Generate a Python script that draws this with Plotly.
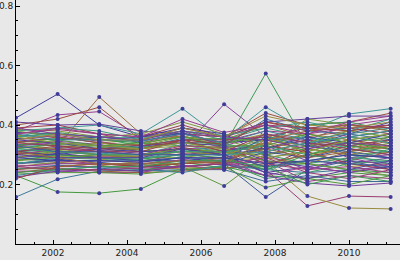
import colorsys
import plotly.graph_objects as go

# x positions of the samples (years)
years = [2001, 2002.125, 2003.25, 2004.375, 2005.5, 2006.625, 2007.75, 2008.875, 2010, 2011.125]
x_ticks = [2002, 2004, 2006, 2008, 2010]
y_ticks = [0.2, 0.4, 0.6, 0.8]

# outlier series
s01 = [0.424, 0.504, 0.40, 0.36, 0.37, 0.34, 0.35, 0.33, 0.36, 0.38]
s02 = [0.27, 0.28, 0.27, 0.26, 0.27, 0.28, 0.25, 0.128, 0.161, 0.158]
s03 = [0.31, 0.32, 0.30, 0.29, 0.30, 0.31, 0.28, 0.161, 0.121, 0.118]
s04 = [0.31, 0.32, 0.31, 0.30, 0.31, 0.33, 0.573, 0.33, 0.34, 0.32]
s05 = [0.29, 0.30, 0.29, 0.28, 0.29, 0.27, 0.158, 0.25, 0.28, 0.27]
s06 = [0.38, 0.434, 0.445, 0.36, 0.38, 0.33, 0.37, 0.35, 0.40, 0.42]
s07 = [0.37, 0.33, 0.494, 0.37, 0.36, 0.35, 0.40, 0.36, 0.38, 0.40]
s08 = [0.23, 0.175, 0.171, 0.185, 0.25, 0.26, 0.23, 0.22, 0.24, 0.23]
s09 = [0.158, 0.218, 0.245, 0.25, 0.26, 0.27, 0.25, 0.24, 0.25, 0.26]
s10 = [0.33, 0.34, 0.33, 0.31, 0.32, 0.47, 0.36, 0.34, 0.33, 0.35]
s11 = [0.40, 0.42, 0.46, 0.35, 0.39, 0.36, 0.44, 0.40, 0.41, 0.44]
s12 = [0.30, 0.31, 0.30, 0.29, 0.26, 0.195, 0.30, 0.32, 0.30, 0.31]
s13 = [0.36, 0.39, 0.40, 0.37, 0.455, 0.35, 0.46, 0.38, 0.437, 0.455]
s14 = [0.41, 0.40, 0.403, 0.38, 0.37, 0.36, 0.41, 0.42, 0.43, 0.43]

# body series
b01 = [0.39, 0.40, 0.37, 0.36, 0.40, 0.36, 0.41, 0.38, 0.39, 0.37]
b02 = [0.385, 0.38, 0.36, 0.37, 0.41, 0.37, 0.33, 0.42, 0.40, 0.39]
b03 = [0.38, 0.39, 0.38, 0.35, 0.38, 0.35, 0.39, 0.36, 0.33, 0.35]
b04 = [0.375, 0.37, 0.35, 0.36, 0.39, 0.37, 0.30, 0.33, 0.37, 0.41]
b05 = [0.37, 0.385, 0.37, 0.34, 0.37, 0.36, 0.40, 0.39, 0.36, 0.34]
b06 = [0.365, 0.36, 0.34, 0.35, 0.36, 0.34, 0.37, 0.30, 0.32, 0.36]
b07 = [0.36, 0.375, 0.355, 0.33, 0.35, 0.355, 0.35, 0.40, 0.41, 0.38]
b08 = [0.355, 0.35, 0.36, 0.345, 0.375, 0.33, 0.32, 0.35, 0.30, 0.29]
b09 = [0.35, 0.365, 0.345, 0.32, 0.34, 0.345, 0.38, 0.37, 0.39, 0.40]
b10 = [0.345, 0.34, 0.33, 0.335, 0.365, 0.32, 0.29, 0.27, 0.31, 0.33]
b11 = [0.34, 0.355, 0.35, 0.34, 0.33, 0.34, 0.36, 0.31, 0.35, 0.37]
b12 = [0.335, 0.33, 0.32, 0.325, 0.355, 0.33, 0.42, 0.38, 0.37, 0.35]
b13 = [0.33, 0.345, 0.335, 0.31, 0.32, 0.325, 0.31, 0.34, 0.29, 0.30]
b14 = [0.325, 0.32, 0.31, 0.32, 0.345, 0.31, 0.34, 0.29, 0.33, 0.32]
b15 = [0.32, 0.335, 0.325, 0.315, 0.31, 0.32, 0.27, 0.30, 0.34, 0.36]
b16 = [0.315, 0.31, 0.305, 0.30, 0.335, 0.305, 0.35, 0.36, 0.32, 0.31]
b17 = [0.31, 0.325, 0.315, 0.305, 0.30, 0.315, 0.33, 0.28, 0.27, 0.29]
b18 = [0.305, 0.30, 0.295, 0.295, 0.325, 0.30, 0.26, 0.32, 0.35, 0.33]
b19 = [0.30, 0.315, 0.30, 0.29, 0.29, 0.31, 0.30, 0.33, 0.31, 0.34]
b20 = [0.295, 0.29, 0.285, 0.285, 0.315, 0.295, 0.37, 0.34, 0.36, 0.38]
b21 = [0.29, 0.305, 0.29, 0.28, 0.28, 0.29, 0.24, 0.26, 0.28, 0.25]
b22 = [0.285, 0.28, 0.28, 0.275, 0.305, 0.285, 0.32, 0.35, 0.33, 0.35]
b23 = [0.28, 0.295, 0.285, 0.27, 0.27, 0.28, 0.29, 0.31, 0.26, 0.27]
b24 = [0.275, 0.27, 0.27, 0.265, 0.295, 0.275, 0.22, 0.24, 0.27, 0.28]
b25 = [0.27, 0.285, 0.275, 0.26, 0.26, 0.27, 0.31, 0.29, 0.32, 0.30]
b26 = [0.265, 0.26, 0.26, 0.255, 0.285, 0.265, 0.28, 0.21, 0.23, 0.22]
b27 = [0.26, 0.275, 0.265, 0.25, 0.255, 0.26, 0.34, 0.37, 0.35, 0.32]
b28 = [0.255, 0.25, 0.25, 0.245, 0.275, 0.255, 0.26, 0.27, 0.25, 0.24]
b29 = [0.25, 0.265, 0.255, 0.245, 0.25, 0.25, 0.21, 0.23, 0.21, 0.21]
b30 = [0.245, 0.245, 0.24, 0.24, 0.265, 0.25, 0.30, 0.25, 0.29, 0.26]
b31 = [0.24, 0.255, 0.245, 0.24, 0.245, 0.255, 0.27, 0.30, 0.28, 0.31]
b32 = [0.235, 0.24, 0.24, 0.235, 0.25, 0.26, 0.19, 0.22, 0.20, 0.23]
b33 = [0.23, 0.25, 0.26, 0.25, 0.24, 0.265, 0.25, 0.28, 0.30, 0.27]
b34 = [0.225, 0.245, 0.25, 0.245, 0.26, 0.27, 0.23, 0.205, 0.195, 0.205]
b35 = [0.22, 0.26, 0.27, 0.26, 0.27, 0.275, 0.33, 0.31, 0.27, 0.25]
b36 = [0.38, 0.36, 0.34, 0.33, 0.36, 0.35, 0.31, 0.34, 0.38, 0.36]
b37 = [0.36, 0.37, 0.36, 0.355, 0.38, 0.365, 0.39, 0.41, 0.38, 0.42]
b38 = [0.35, 0.34, 0.32, 0.33, 0.34, 0.33, 0.28, 0.26, 0.24, 0.26]
b39 = [0.34, 0.36, 0.34, 0.33, 0.35, 0.35, 0.36, 0.39, 0.40, 0.39]
b40 = [0.33, 0.32, 0.34, 0.32, 0.33, 0.32, 0.35, 0.33, 0.36, 0.34]
b41 = [0.32, 0.34, 0.33, 0.325, 0.34, 0.34, 0.30, 0.27, 0.29, 0.28]
b42 = [0.31, 0.30, 0.32, 0.31, 0.32, 0.30, 0.32, 0.36, 0.34, 0.37]
b43 = [0.30, 0.32, 0.31, 0.30, 0.33, 0.325, 0.27, 0.25, 0.26, 0.24]
b44 = [0.29, 0.31, 0.30, 0.295, 0.31, 0.30, 0.34, 0.32, 0.30, 0.33]
b45 = [0.28, 0.30, 0.29, 0.285, 0.30, 0.29, 0.25, 0.30, 0.33, 0.31]
b46 = [0.27, 0.28, 0.28, 0.28, 0.29, 0.285, 0.36, 0.33, 0.31, 0.29]
b47 = [0.26, 0.27, 0.27, 0.27, 0.28, 0.28, 0.23, 0.26, 0.24, 0.27]
b48 = [0.25, 0.26, 0.27, 0.265, 0.27, 0.29, 0.32, 0.29, 0.31, 0.35]
b49 = [0.33, 0.35, 0.33, 0.34, 0.36, 0.33, 0.33, 0.37, 0.34, 0.32]
b50 = [0.37, 0.35, 0.35, 0.345, 0.37, 0.34, 0.38, 0.35, 0.37, 0.39]
b51 = [0.39, 0.37, 0.36, 0.35, 0.38, 0.36, 0.35, 0.32, 0.34, 0.33]
b52 = [0.31, 0.33, 0.32, 0.32, 0.35, 0.335, 0.41, 0.39, 0.38, 0.40]
b53 = [0.28, 0.29, 0.30, 0.30, 0.32, 0.31, 0.28, 0.27, 0.25, 0.23]
b54 = [0.27, 0.29, 0.29, 0.29, 0.30, 0.30, 0.31, 0.34, 0.36, 0.34]
b55 = [0.30, 0.29, 0.29, 0.29, 0.32, 0.30, 0.24, 0.22, 0.25, 0.28]
b56 = [0.34, 0.33, 0.31, 0.31, 0.35, 0.31, 0.37, 0.34, 0.32, 0.30]
b57 = [0.36, 0.34, 0.33, 0.32, 0.34, 0.32, 0.29, 0.31, 0.35, 0.37]
b58 = [0.32, 0.31, 0.30, 0.30, 0.31, 0.31, 0.33, 0.30, 0.28, 0.32]
b59 = [0.29, 0.28, 0.28, 0.275, 0.29, 0.29, 0.27, 0.28, 0.30, 0.29]
b60 = [0.26, 0.25, 0.25, 0.255, 0.26, 0.27, 0.29, 0.24, 0.22, 0.25]
b61 = [0.35, 0.37, 0.35, 0.35, 0.39, 0.36, 0.43, 0.40, 0.39, 0.41]
b62 = [0.24, 0.25, 0.26, 0.26, 0.28, 0.28, 0.26, 0.20, 0.23, 0.21]
b63 = [0.33, 0.31, 0.31, 0.30, 0.30, 0.30, 0.26, 0.28, 0.27, 0.26]
b64 = [0.37, 0.39, 0.37, 0.36, 0.42, 0.375, 0.40, 0.37, 0.41, 0.43]
b65 = [0.31, 0.29, 0.27, 0.27, 0.28, 0.27, 0.35, 0.38, 0.40, 0.38]

series = [s01, s02, s03, s04, s05, s06, s07, s08, s09, s10, s11, s12, s13, s14,
          b01, b02, b03, b04, b05, b06, b07, b08, b09, b10, b11, b12, b13,
          b14, b15, b16, b17, b18, b19, b20, b21, b22, b23, b24, b25, b26,
          b27, b28, b29, b30, b31, b32, b33, b34, b35, b36, b37, b38, b39,
          b40, b41, b42, b43, b44, b45, b46, b47, b48, b49, b50, b51, b52,
          b53, b54, b55, b56, b57, b58, b59, b60, b61, b62, b63, b64, b65]


def mma_color(k):
    h = (0.67 + 0.2360679775 * k) % 1.0
    r, g, b = colorsys.hsv_to_rgb(h, 0.6, 0.6)
    return "rgb(%d,%d,%d)" % (round(r * 255), round(g * 255), round(b * 255))


POINT = "rgb(63,61,153)"
BG = "#e8e8e8"

fig = go.Figure()
for k, ys in enumerate(series):
    fig.add_trace(go.Scatter(x=years, y=ys, mode="lines",
                             line=dict(color=mma_color(k), width=1),
                             hoverinfo="skip", showlegend=False))
for ys in series:
    fig.add_trace(go.Scatter(x=years, y=ys, mode="markers",
                             marker=dict(color=POINT, size=4, line=dict(width=0)),
                             hoverinfo="skip", showlegend=False))

axis_common = dict(showline=True, linecolor="black", linewidth=1, ticks="inside",
                   tickcolor="black", ticklen=4, showgrid=False, zeroline=False,
                   automargin=False, tickfont=dict(family="DejaVu Sans", size=9, color="#222"))

fig.update_layout(
    width=400, height=260,
    margin=dict(l=16, r=0, t=0, b=16),
    paper_bgcolor=BG, plot_bgcolor=BG,
    xaxis=dict(range=[2001, 2011.378], tickvals=x_ticks,
               ticktext=[str(t) for t in x_ticks],
               minor=dict(dtick=0.5, tick0=2001, ticks="inside", ticklen=2, tickcolor="black"),
               **axis_common),
    yaxis=dict(range=[0, 0.8202], tickvals=y_ticks,
               ticktext=["0.2", "0.4", "0.6", "0.8"],
               minor=dict(dtick=0.05, tick0=0, ticks="inside", ticklen=2, tickcolor="black"),
               **axis_common),
)

fig.write_html("out.html")
